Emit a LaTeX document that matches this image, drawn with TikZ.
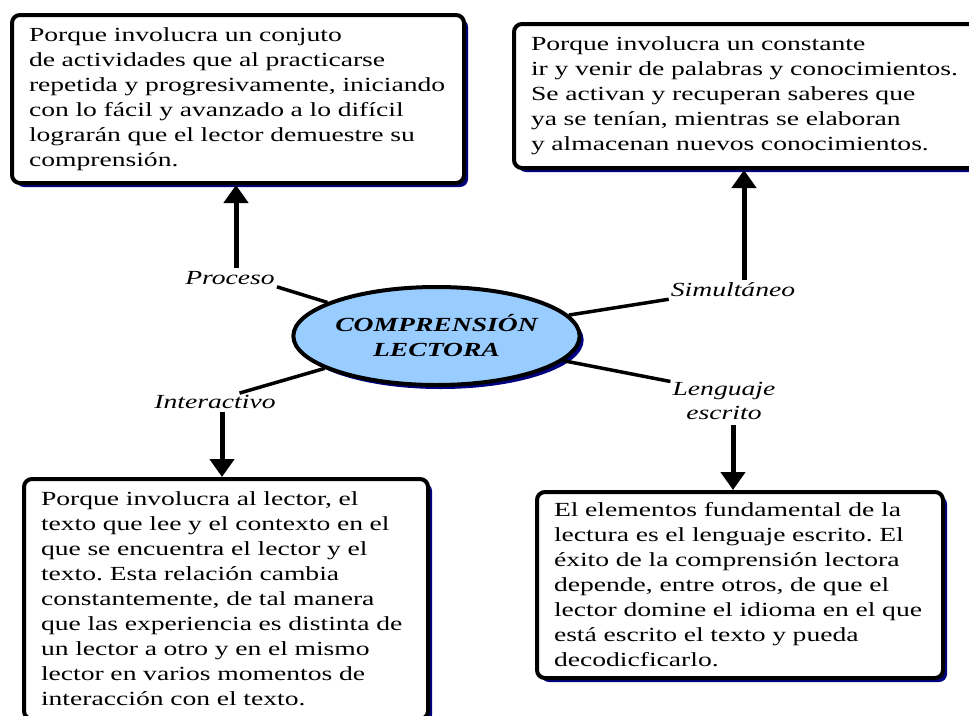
\documentclass[tikz,border=0pt]{standalone}
\usepackage{fontspec}
\setmainfont{Liberation Serif}[FakeStretch=1.38]
\frenchspacing
\usetikzlibrary{shapes.geometric,arrows.meta,shadows,positioning}
\definecolor{navy}{RGB}{0,0,128}
\definecolor{skyfill}{RGB}{153,204,255}
\tikzstyle{block}=[draw, line width=4pt, rounded corners=8pt, fill=white, align=left, inner xsep=17pt, inner ysep=0pt, drop shadow={shadow xshift=4pt, shadow yshift=-4pt, fill=navy, opacity=1}, font=\fontsize{20}{25}\selectfont]
\tikzstyle{hub}=[ellipse, draw, line width=4pt, fill=skyfill, inner sep=0pt, align=center, drop shadow={shadow xshift=4pt, shadow yshift=-4pt, fill=navy, opacity=1}, font=\fontsize{20}{25}\selectfont\bfseries\itshape]
\tikzstyle{tag}=[inner sep=2pt, align=center, font=\fontsize{20}{24}\selectfont\itshape]
\tikzstyle{arrow}=[line width=5pt, -{Triangle[width=24pt,length=18pt]}]
\tikzstyle{link}=[line width=3.5pt]

\begin{document}
\begin{tikzpicture}[x=1pt,y=-1pt]
    \useasboundingbox (0,0) rectangle (969,715);
    \node (proceso) at (238,99) [block,minimum width=452pt,minimum height=168pt,text width=418pt]
        {Porque involucra un conjuto\\de actividades que al practicarse\\repetida y progresivamente, iniciando\\con lo fácil y avanzado a lo difícil\\lograrán que el lector demuestre su\\comprensión.};
    \node (simult) at (749.5,96) [block,minimum width=471pt,minimum height=144pt,text width=437pt]
        {Porque involucra un constante\\ir y venir de palabras y conocimientos.\\Se activan y recuperan saberes que\\ya se tenían, mientras se elaboran\\y almacenan nuevos conocimientos.};
    \node (interac) at (226,599) [block,minimum width=404pt,minimum height=240pt,text width=370pt]
        {Porque involucra al lector, el\\texto que lee y el contexto en el\\que se encuentra el lector y el\\texto. Esta relación cambia\\constantemente, de tal manera\\que las experiencia es distinta de\\un lector a otro y en el mismo\\lector en varios momentos de\\interacción con el texto.};
    \node (lengua) at (740,585) [block,minimum width=406pt,minimum height=186pt,text width=372pt]
        {El elementos fundamental de la\\lectura es el lenguaje escrito. El\\éxito de la comprensión lectora\\depende, entre otros, de que el\\lector domine el idioma en el que\\está escrito el texto y pueda\\decodicficarlo.};
    \node (hub) at (436.5,336) [hub,minimum width=269pt,minimum height=98pt] {COMPRENSIÓN\\LECTORA};
    \node (tproc) at (230,278) [tag] {Proceso};
    \node (tsim) at (733,290) [tag] {Simultáneo};
    \node (tint) at (215,402) [tag] {Interactivo};
    \node (tlen) at (724,401) [tag] {Lenguaje\\escrito};
    \node (pa) at (236,268) [coordinate] {};
    \node (sa) at (744,280) [coordinate] {};
    \node (ia) at (222,412) [coordinate] {};
    \node (la) at (733,425) [coordinate] {};
    \path[arrow]
        (pa) edge (pa |- proceso.south)
        (sa) edge (sa |- simult.south)
        (ia) edge (ia |- interac.north)
        (la) edge (la |- lengua.north);
    \path[link]
        (tproc.south east) edge (hub)
        (tsim.south west) edge (hub)
        (tint.20) edge (hub)
        (tlen.160) edge (hub);
\end{tikzpicture}
\end{document}
